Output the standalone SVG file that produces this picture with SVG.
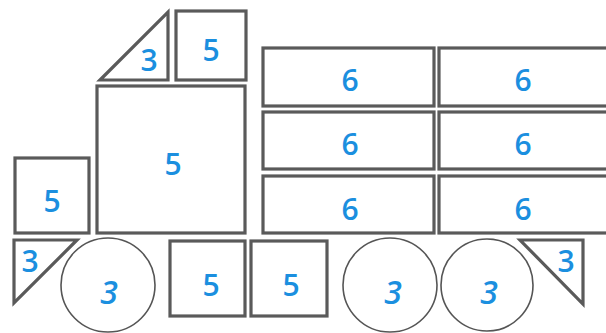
<svg xmlns="http://www.w3.org/2000/svg" width="606" height="333" viewBox="0 0 606 333">
<style>
.s{fill:#fff;stroke:#5a5a5a;stroke-width:3.2;stroke-linejoin:miter}
.c{fill:#fff;stroke:#555;stroke-width:1.6}
.t{font-family:"Open Sans","DejaVu Sans",sans-serif;font-size:30px;font-weight:600;fill:#1b8fdf;text-anchor:middle}
.i{font-style:italic;font-size:32px}
</style>
<rect width="606" height="333" fill="#fff"/>
<g id="tri-top"><polygon class="s" points="168,12 168,80 100,80"/><text class="t" x="149" y="71">3</text></g>
<g id="sq-top"><rect class="s" x="176" y="11" width="70" height="69"/><text class="t" x="211" y="61">5</text></g>
<g id="sq-big"><rect class="s" x="97" y="86" width="148" height="147"/><text class="t" x="173" y="175">5</text></g>
<g id="sq-left"><rect class="s" x="15" y="158" width="74" height="75"/><text class="t" x="52" y="212">5</text></g>
<g id="r11"><rect class="s" x="263" y="48" width="171" height="58"/><text class="t" x="350" y="91">6</text></g>
<g id="r12"><rect class="s" x="439" y="48" width="175" height="58"/><text class="t" x="523" y="91">6</text></g>
<g id="r21"><rect class="s" x="263" y="112" width="171" height="57"/><text class="t" x="350" y="155">6</text></g>
<g id="r22"><rect class="s" x="439" y="112" width="175" height="57"/><text class="t" x="523" y="155">6</text></g>
<g id="r31"><rect class="s" x="263" y="176" width="171" height="57"/><text class="t" x="350" y="220">6</text></g>
<g id="r32"><rect class="s" x="439" y="176" width="175" height="57"/><text class="t" x="523" y="220">6</text></g>
<g id="tri-left"><polygon class="s" points="14,240 77,240 14,303"/><text class="t" x="30" y="272">3</text></g>
<g id="wheel1"><circle class="c" cx="108" cy="285" r="47"/><text class="t i" x="109" y="304">3</text></g>
<g id="sq-b1"><rect class="s" x="170" y="241" width="75" height="75"/><text class="t" x="211" y="296">5</text></g>
<g id="sq-b2"><rect class="s" x="251" y="241" width="76" height="75"/><text class="t" x="291" y="296">5</text></g>
<g id="wheel2"><circle class="c" cx="390" cy="285" r="47"/><text class="t i" x="393" y="304">3</text></g>
<g id="wheel3"><circle class="c" cx="487" cy="285" r="46"/><text class="t i" x="489" y="304">3</text></g>
<g id="tri-right"><polygon class="s" points="520,240 583,240 583,304"/><text class="t" x="566" y="272">3</text></g>
<g id="connectors"></g>
</svg>
